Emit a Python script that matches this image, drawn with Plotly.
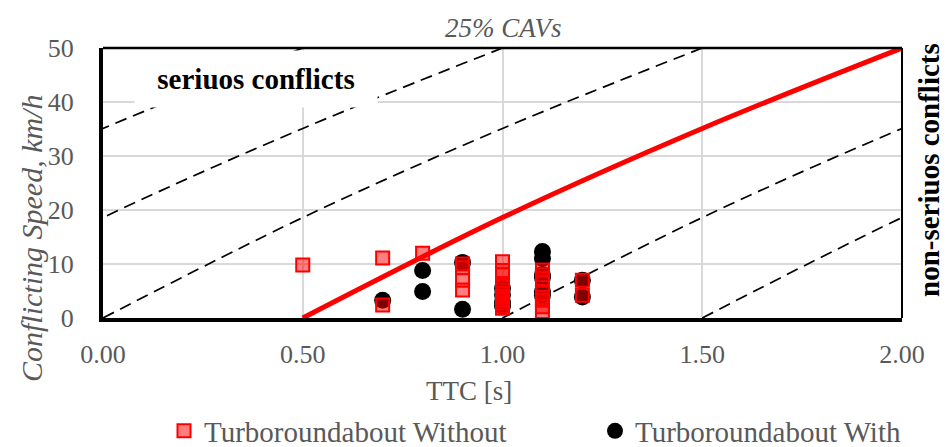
import plotly.graph_objects as go

# ---- data ----
x_ticks = [0.0, 0.5, 1.0, 1.5, 2.0]
x_tick_labels = ["0.00", "0.50", "1.00", "1.50", "2.00"]
y_ticks = [0, 10, 20, 30, 40, 50]

# severity boundary curve (red), TTC vs conflicting speed
boundary_ttc = [0.50, 1.00, 1.50, 2.00]
boundary_speed = [0.0, 18.6, 35.1, 50.0]
# dashed iso-severity curves: same curve shifted along TTC
dashed_shifts = [-1.5, -1.0, -0.5, 0.5, 1.0]

without_ttc = [0.5, 0.7, 0.7, 0.8,
               0.9, 0.9, 0.9, 0.9,
               1.0, 1.0, 1.0, 1.0, 1.0, 1.0, 1.0, 1.0, 1.0, 1.0, 1.0,
               1.1, 1.1, 1.1, 1.1, 1.1, 1.1, 1.1, 1.1,
               1.2, 1.2]
without_speed = [9.8, 11.1, 2.4, 12.0,
                 10.0, 9.3, 7.0, 5.2,
                 10.4, 8.8, 8.0, 6.0, 5.2, 4.6, 4.0, 3.4, 2.8, 2.2, 1.8,
                 8.9, 8.0, 7.3, 4.6, 3.8, 3.3, 2.1, 1.2,
                 7.0, 4.2]

with_ttc = [0.7, 0.8, 0.8, 0.9, 0.9,
            1.0, 1.0, 1.0, 1.0,
            1.1, 1.1, 1.1, 1.1, 1.1, 1.1,
            1.2, 1.2]
with_speed = [3.3, 8.8, 4.9, 10.3, 1.6,
              5.5, 4.3, 3.0, 2.2,
              12.3, 11.0, 8.0, 7.5, 4.9, 4.2,
              7.0, 3.9]

FONT = "Liberation Serif, Tinos, 'Times New Roman', 'DejaVu Serif', serif"
GREY = "#595959"

# plot-area geometry (pixels) for annotation placement
L, R, T, B = 103, 45, 48, 129
W, H = 947, 447
PW, PH = W - L - R, H - T - B


def px(xp):
    return (xp - L) / PW


def py(yp):
    return (H - B - yp) / PH


fig = go.Figure()

for s in dashed_shifts:
    fig.add_trace(go.Scatter(
        x=[v + s for v in boundary_ttc], y=boundary_speed, mode="lines",
        line=dict(color="black", width=1.7, dash="12px,7px", shape="spline"),
        showlegend=False, hoverinfo="skip"))

fig.add_trace(go.Scatter(
    x=boundary_ttc, y=boundary_speed, mode="lines",
    line=dict(color="#FF0000", width=5, shape="spline"),
    showlegend=False, hoverinfo="skip"))

fig.add_trace(go.Scatter(
    x=with_ttc, y=with_speed, mode="markers", name="Turboroundabout With",
    marker=dict(symbol="circle", size=17, color="black", line=dict(width=0)),
    legend="legend2"))

fig.add_trace(go.Scatter(
    x=without_ttc, y=without_speed, mode="markers", name="Turboroundabout Without",
    marker=dict(symbol="square", size=13, color="rgba(255,0,0,0.5)",
                line=dict(color="#FF0000", width=2)),
    legend="legend"))

fig.update_layout(
    width=W, height=H,
    margin=dict(l=L, r=R, t=T, b=B, pad=0, autoexpand=False),
    paper_bgcolor="white", plot_bgcolor="white",
    font=dict(family=FONT, color=GREY, size=26),
    xaxis=dict(range=[0, 2], tickvals=x_ticks, ticktext=x_tick_labels,
               showgrid=True, gridcolor="#D9D9D9", gridwidth=1.5,
               zeroline=False, showline=True, linecolor="black", linewidth=4,
               ticks="", ticklabelstandoff=10, automargin=False,
               tickfont=dict(family=FONT, size=26, color=GREY)),
    yaxis=dict(range=[0, 50], tickvals=y_ticks,
               showgrid=True, gridcolor="#D9D9D9", gridwidth=1.5,
               zeroline=False, showline=True, linecolor="black", linewidth=4,
               ticks="", ticklabelstandoff=20, automargin=False,
               tickfont=dict(family=FONT, size=26, color=GREY)),
    legend=dict(orientation="h", x=px(164), y=py(431), xanchor="left", yanchor="middle",
                font=dict(family=FONT, size=29, color=GREY), bgcolor="rgba(0,0,0,0)"),
    legend2=dict(orientation="h", x=px(595), y=py(431), xanchor="left", yanchor="middle",
                 font=dict(family=FONT, size=29, color=GREY), bgcolor="rgba(0,0,0,0)"),
    shapes=[
        dict(type="line", xref="paper", yref="paper", x0=0, x1=1, y0=1, y1=1,
             line=dict(color="black", width=2.5)),
        dict(type="line", xref="paper", yref="paper", x0=1, x1=1, y0=0, y1=1,
             line=dict(color="black", width=2)),
    ],
    annotations=[
        dict(text="25% CAVs", xref="paper", yref="paper", x=px(503), y=py(28),
             showarrow=False, xanchor="center", yanchor="middle",
             font=dict(family=FONT, size=27, color=GREY, style="italic")),
        dict(text="<b>seriuos conflicts</b>", xref="paper", yref="paper",
             x=px(256), y=py(79), showarrow=False, xanchor="center", yanchor="middle",
             bgcolor="white", width=222, height=36, borderpad=10,
             font=dict(family=FONT, size=29, color="black")),
        dict(text="<b>non-seriuos conflicts</b>", xref="paper", yref="paper",
             x=px(929), y=py(170), showarrow=False, xanchor="center", yanchor="middle",
             textangle=-90, font=dict(family=FONT, size=29, color="black")),
        dict(text="Conflicting Speed, km/h", xref="paper", yref="paper",
             x=px(31), y=py(239), showarrow=False, xanchor="center", yanchor="middle",
             textangle=-90,
             font=dict(family=FONT, size=30, color=GREY, style="italic")),
        dict(text="TTC [s]", xref="paper", yref="paper",
             x=px(469), y=py(391), showarrow=False, xanchor="center", yanchor="middle",
             font=dict(family=FONT, size=27, color=GREY)),
    ],
)

fig.write_html("out.html")
